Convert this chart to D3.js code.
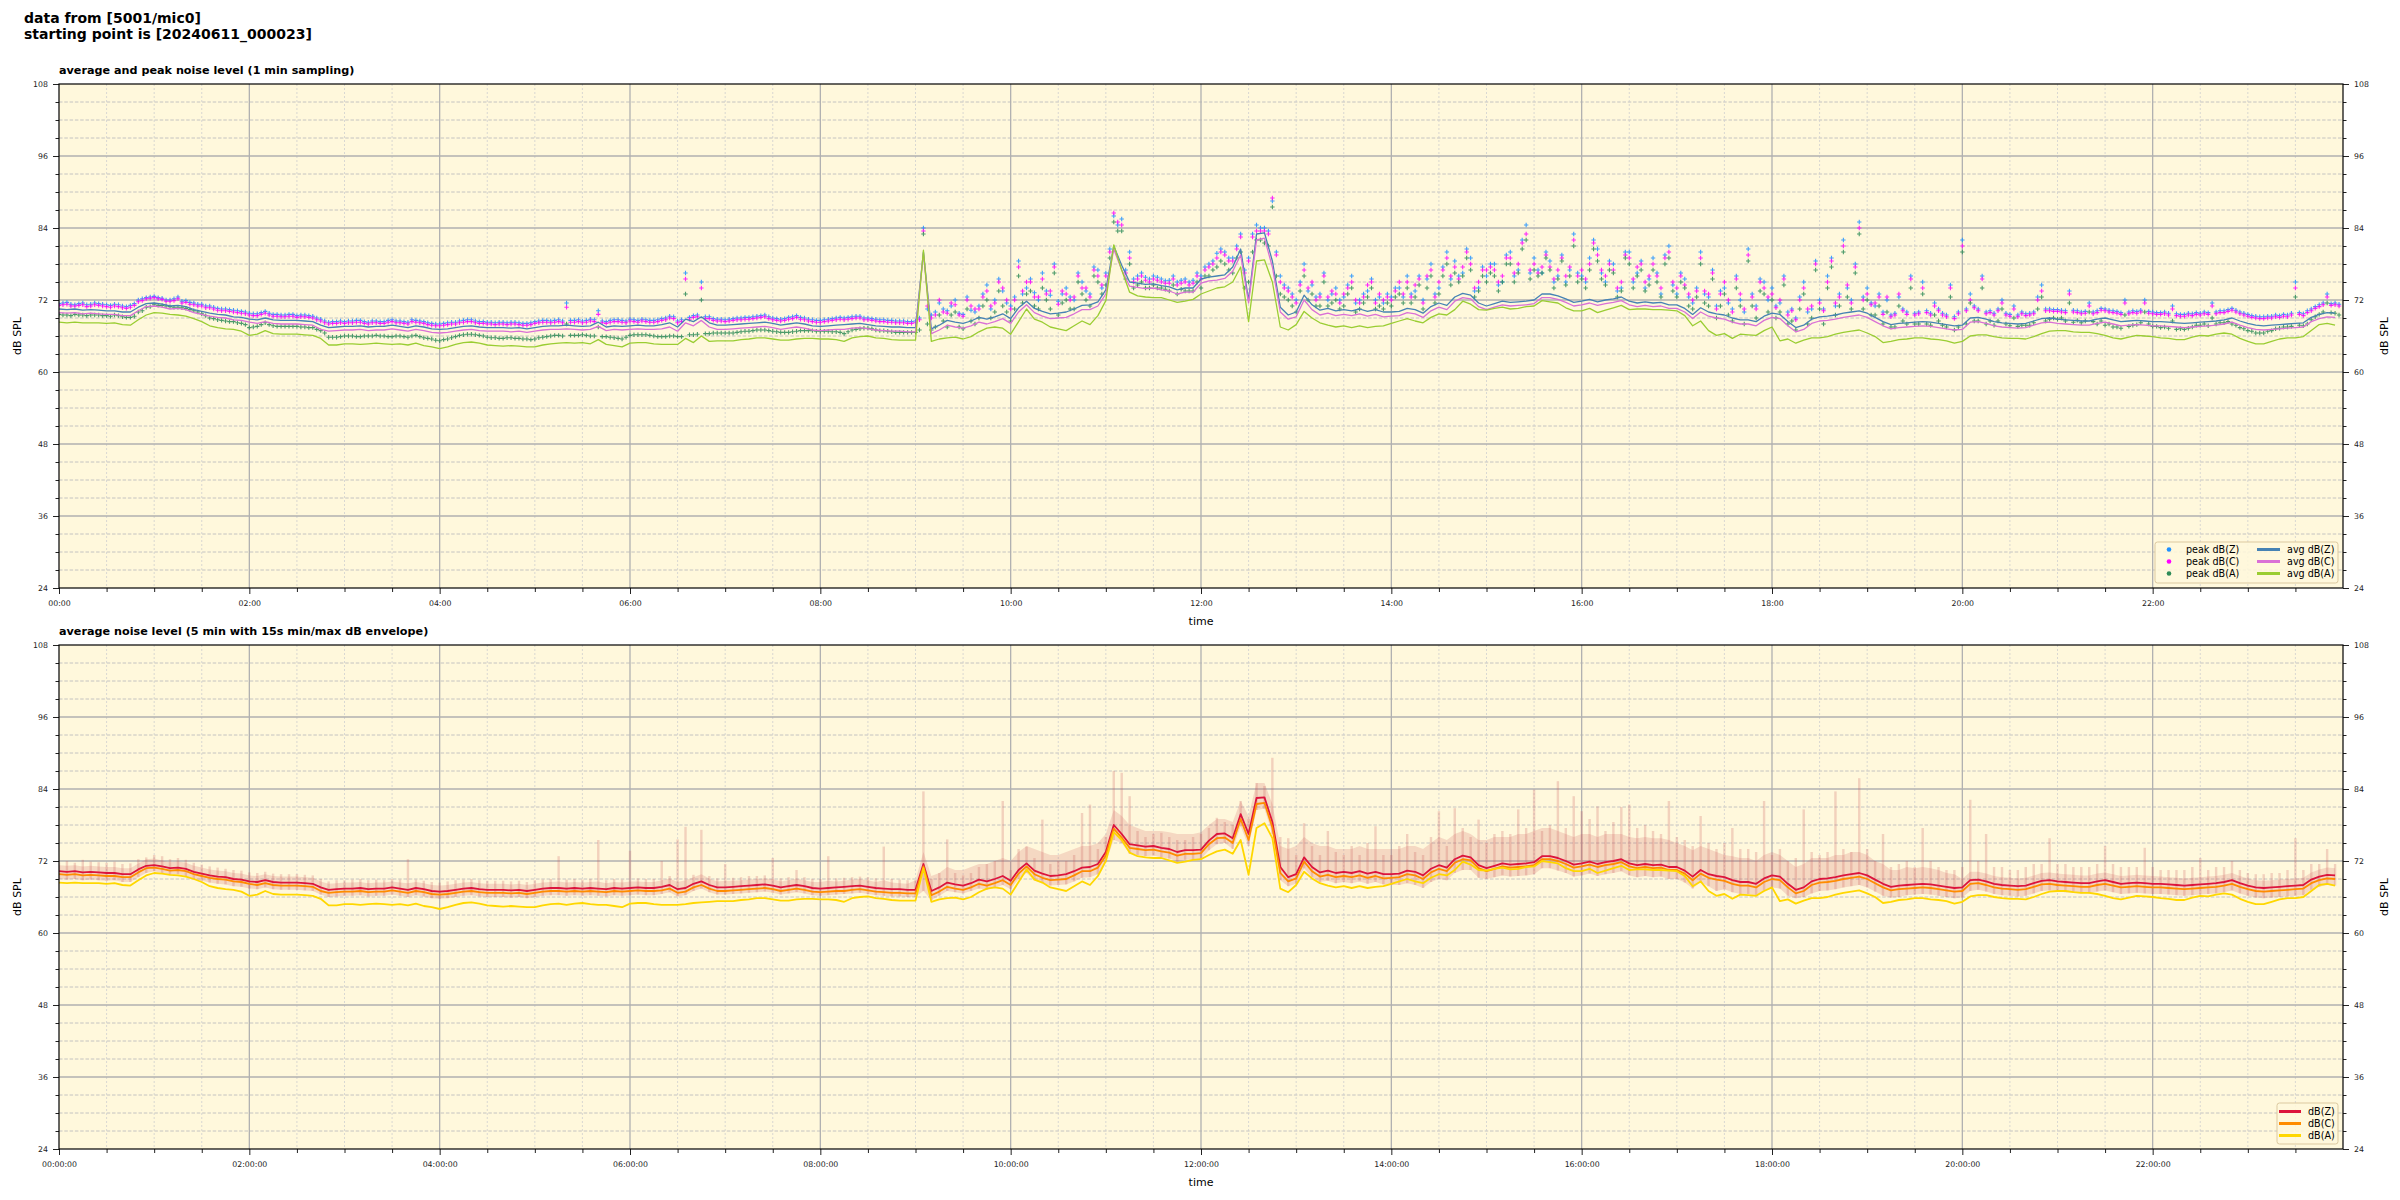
<!DOCTYPE html>
<html><head><meta charset="utf-8">
<script src="https://cdn.jsdelivr.net/npm/d3@7"></script>
<style>
body{margin:0;background:#fff}
svg text{font-family:"DejaVu Sans",sans-serif}
</style>
</head><body>
<svg id="c" width="2400" height="1200"></svg>
<script>
// ---------------- DATA (5-minute grid, 00:00 .. 23:55) ----------------
const sampleMinutes = d3.range(0, 1440, 5);
const sampleMinutesB = d3.range(2.5, 1440, 5);
const yTicks = [24, 36, 48, 60, 72, 84, 96, 108];
const xTickMinutes = [0, 120, 240, 360, 480, 600, 720, 840, 960, 1080, 1200, 1320];
const xTickLabelsTop = ["00:00","02:00","04:00","06:00","08:00","10:00","12:00","14:00","16:00","18:00","20:00","22:00"];
const xTickLabelsBottom = ["00:00:00","02:00:00","04:00:00","06:00:00","08:00:00","10:00:00","12:00:00","14:00:00","16:00:00","18:00:00","20:00:00","22:00:00"];

// top panel: peaks (1 min sampling, read at :00 of each 5 min)
const peakZ = [
71.4,71.6,71.2,71.5,71.3,71.4,71.2,71.3,71.0,71.1,72.0,72.4,
72.6,72.3,72.0,72.5,71.9,71.5,71.3,71.0,70.6,70.5,70.3,70.1,
69.8,69.7,70.1,69.6,69.5,69.6,69.4,69.5,69.3,68.8,68.3,68.4,
68.4,68.5,68.6,68.3,68.5,68.4,68.7,68.5,68.3,68.6,68.4,68.1,
68.0,68.2,68.3,68.6,68.7,68.4,68.3,68.2,68.3,68.3,68.2,68.1,
68.4,68.6,68.5,68.7,71.5,68.6,68.5,68.8,70.2,68.4,68.7,68.6,
68.8,68.6,68.7,68.6,68.9,69.3,68.5,76.5,69.4,75.0,69.2,68.8,
68.7,68.9,69.0,69.1,69.3,69.5,69.0,68.8,69.1,69.4,69.0,68.7,
68.6,68.8,69.0,69.0,69.2,69.3,69.0,68.8,68.7,68.6,68.5,68.4,
68.5,84.0,69.5,71.5,70.2,72.0,69.6,70.3,71.0,74.5,72.0,73.5,
71.0,78.5,74.0,73.2,76.5,72.8,71.8,74.0,72.0,75.0,73.0,77.0,
76.5,86.0,85.5,80.0,76.0,75.8,76.0,75.5,75.3,75.0,75.5,75.3,
76.0,78.0,79.8,80.0,79.0,83.0,79.0,84.5,84.0,88.5,76.0,74.0,
72.0,78.0,74.5,73.0,72.0,74.0,72.5,76.0,72.0,73.5,72.0,71.5,
72.5,74.0,76.0,73.5,72.0,78.0,74.0,80.0,78.5,76.5,79.0,74.0,
76.0,78.0,75.0,80.0,77.0,84.5,79.0,76.5,78.5,76.0,75.0,83.0,
76.0,79.0,80.5,75.0,78.0,74.0,80.0,76.5,74.0,79.0,73.0,81.0,
73.0,75.5,71.5,80.0,72.5,71.0,74.0,70.5,72.0,80.5,71.0,75.0,
74.0,71.5,70.0,69.0,75.0,70.5,72.0,76.0,71.0,82.0,72.0,85.0,
74.0,71.0,70.0,69.5,72.5,70.0,69.8,75.0,69.8,70.5,69.5,69.2,
82.0,73.0,70.5,70.0,69.8,72.0,69.6,69.5,69.7,70.0,74.5,70.5,
70.4,70.2,70.3,70.0,71.5,70.2,70.5,70.2,69.9,70.0,70.1,72.0,
70.0,69.9,69.8,69.7,69.6,69.7,69.8,69.9,70.0,70.2,70.6,70.0,
69.6,69.3,69.2,69.3,69.4,69.5,75.0,69.7,70.5,71.2,73.0,71.5];
const peakC = [
71.1,71.3,71.0,71.2,71.0,71.1,70.9,71.0,70.7,70.8,71.7,72.2,
72.4,72.1,71.8,72.2,71.6,71.2,71.0,70.7,70.3,70.2,70.0,69.8,
69.5,69.4,69.8,69.3,69.2,69.3,69.1,69.2,69.0,68.5,68.0,68.1,
68.1,68.2,68.3,68.0,68.2,68.1,68.4,68.2,68.0,68.3,68.1,67.8,
67.7,67.9,68.0,68.3,68.4,68.1,68.0,67.9,68.0,68.0,67.9,67.8,
68.1,68.3,68.2,68.4,70.8,68.3,68.2,68.5,69.6,68.1,68.4,68.3,
68.5,68.3,68.4,68.3,68.6,69.0,68.2,75.5,69.1,74.0,68.9,68.5,
68.4,68.6,68.7,68.8,69.0,69.2,68.7,68.5,68.8,69.1,68.7,68.4,
68.3,68.5,68.7,68.7,68.9,69.0,68.7,68.5,68.4,68.3,68.2,68.1,
68.2,83.5,69.0,72.0,69.8,71.2,69.3,71.0,70.5,73.5,71.5,74.0,
70.5,77.5,75.0,72.5,75.5,73.5,71.3,73.0,72.5,74.0,72.5,76.0,
76.0,86.5,84.5,79.0,75.5,75.3,75.5,75.0,74.8,74.5,75.0,74.8,
75.5,77.5,79.0,79.5,78.5,82.5,78.5,83.5,83.5,89.0,75.0,73.5,
71.5,77.0,75.0,72.5,72.5,73.0,73.0,75.0,71.5,74.5,71.5,72.0,
72.0,75.0,75.0,74.5,71.5,77.0,75.0,79.0,77.5,77.5,78.0,75.0,
77.0,77.0,76.0,79.0,78.0,83.0,78.0,77.5,77.5,77.0,76.0,82.0,
77.0,78.0,79.5,76.0,77.0,75.0,79.0,77.5,75.0,78.0,74.0,80.0,
74.0,74.5,72.0,79.0,73.0,70.5,75.0,70.0,73.0,79.5,70.5,74.0,
73.0,72.0,69.5,68.7,74.0,71.0,71.5,75.0,71.5,81.0,71.5,84.0,
73.0,71.5,69.6,69.2,73.0,69.6,69.5,74.0,69.5,70.2,69.2,68.9,
81.0,72.0,70.2,69.7,69.5,71.5,69.3,69.2,69.4,69.7,73.5,70.2,
70.1,69.9,70.0,69.7,71.0,69.9,70.2,69.9,69.6,69.7,69.8,71.5,
69.7,69.6,69.5,69.4,69.3,69.4,69.5,69.6,69.7,69.9,70.3,69.7,
69.3,69.0,68.9,69.0,69.1,69.2,74.0,69.4,70.2,70.9,72.5,71.2];
const peakA = [
69.6,69.5,69.6,69.5,69.5,69.5,69.4,69.5,69.2,69.1,70.0,70.8,
71.2,71.1,70.9,70.8,70.6,70.2,69.7,69.0,68.7,68.5,68.4,68.1,
67.4,67.6,68.2,67.7,67.6,67.6,67.6,67.5,67.4,66.9,65.8,65.8,
66.0,66.0,65.9,66.0,66.1,66.0,65.9,66.0,65.8,66.1,65.7,65.5,
65.2,65.5,65.9,66.2,66.3,66.1,65.8,65.7,65.6,65.7,65.6,65.5,
65.5,65.8,66.0,66.1,68.0,66.1,66.2,66.0,67.5,65.9,65.7,65.5,
66.1,66.2,66.2,66.0,65.9,66.0,65.9,73.0,66.2,72.0,66.4,66.5,
66.5,66.5,66.7,66.8,67.0,67.0,66.8,66.6,66.6,66.8,66.9,66.9,
66.8,66.8,66.7,66.4,67.0,67.2,67.3,67.0,66.9,66.7,66.6,66.6,
66.6,83.0,67.0,69.5,67.5,70.0,67.2,68.5,69.0,72.0,70.0,71.0,
68.5,76.0,73.0,71.0,74.0,70.5,69.5,72.0,70.5,73.0,71.0,75.0,
74.5,85.0,83.5,78.0,74.5,74.0,74.5,74.0,73.5,73.0,73.5,73.5,
74.0,76.0,77.5,78.0,76.5,80.0,75.0,82.0,81.5,87.5,73.0,72.0,
70.0,76.0,73.0,71.0,71.0,72.0,71.0,74.0,70.5,72.5,70.5,70.5,
71.0,73.0,74.0,72.5,70.5,76.0,73.0,78.0,76.5,76.0,77.0,73.5,
75.0,76.0,75.0,78.0,76.5,82.0,77.0,76.5,77.0,75.5,74.5,81.0,
75.5,77.0,78.5,74.5,76.5,73.5,78.0,76.0,73.5,77.0,72.5,79.0,
72.5,74.0,70.5,78.0,71.0,69.0,73.0,68.5,71.0,78.5,69.0,73.0,
72.0,70.0,68.0,67.0,73.0,69.0,70.5,74.0,69.5,80.0,70.5,83.0,
72.0,69.5,68.0,67.5,71.0,68.0,68.0,73.0,67.8,68.5,67.5,67.0,
80.0,71.5,68.5,68.0,67.8,70.5,67.7,67.6,67.8,68.2,72.5,68.8,
68.8,68.5,68.3,68.2,70.0,68.0,67.8,67.5,67.3,67.6,67.9,70.0,
67.6,67.4,67.3,67.1,67.1,67.5,67.8,67.7,68.0,68.2,68.0,67.4,
66.9,66.5,66.5,66.9,67.3,67.5,72.5,67.7,68.7,69.6,71.5,69.8];
// top panel: peaks read at :02.5 of each 5 min
const peakZb = [
71.5,71.3,71.4,71.2,71.5,71.3,71.1,71.2,70.9,71.4,72.2,72.5,
72.4,72.0,72.2,71.8,71.6,71.3,71.0,70.8,70.5,70.4,70.2,70.0,
69.7,69.9,69.8,69.6,69.5,69.6,69.5,69.4,69.0,68.5,68.4,68.5,
68.5,68.6,68.4,68.5,68.4,68.6,68.5,68.4,68.7,68.5,68.2,68.0,
68.1,68.3,68.5,68.7,68.5,68.4,68.3,68.3,68.2,68.3,68.1,68.2,
68.5,68.6,68.6,68.5,68.6,68.7,68.6,68.7,68.5,68.6,68.7,68.5,
68.7,68.8,68.6,68.7,69.0,69.2,68.7,69.1,69.5,69.2,68.9,68.8,
68.8,69.0,69.1,69.2,69.4,69.2,68.9,68.9,69.2,69.1,68.8,68.6,
68.7,68.9,69.1,69.1,69.3,69.0,68.9,68.7,68.6,68.5,68.5,68.4,
69.0,70.5,70.0,70.5,71.0,69.8,72.5,70.0,73.0,70.5,75.5,71.5,
72.5,73.0,75.5,72.0,73.5,78.0,73.0,72.5,76.5,73.5,77.5,74.0,
80.5,84.5,77.0,75.5,76.5,75.5,75.8,75.2,76.0,75.3,75.0,76.5,
77.5,78.5,80.5,79.0,81.0,77.0,83.0,84.0,83.5,80.0,74.5,73.0,
75.0,73.5,72.5,76.5,73.0,72.0,74.5,71.5,73.0,75.5,72.5,73.0,
74.0,72.5,73.0,76.0,75.5,73.0,77.5,75.5,76.0,80.5,73.5,77.5,
78.0,74.5,79.5,76.0,82.0,76.5,77.0,80.0,75.0,79.5,77.0,76.5,
75.0,82.0,76.5,78.5,73.5,80.0,75.0,78.5,75.5,76.5,79.5,74.5,
76.5,72.5,74.0,73.0,77.0,73.5,71.5,76.0,70.0,73.0,75.5,72.0,
71.0,76.0,70.5,72.5,70.0,78.5,70.5,79.0,73.0,74.0,78.0,72.5,
71.5,73.0,72.0,69.8,70.5,76.0,70.0,70.2,71.5,69.8,74.5,70.0,
70.5,71.0,76.0,70.2,70.5,69.8,71.0,70.0,69.8,72.5,70.5,70.4,
70.3,73.5,70.2,70.1,70.0,70.6,70.3,70.1,72.0,70.2,70.3,70.1,
69.9,70.0,71.0,69.6,69.8,69.9,70.0,71.5,70.2,70.4,70.3,69.8,
69.4,69.2,69.3,69.5,69.6,69.8,69.9,70.2,70.9,71.5,71.4,71.3];
const peakCb = [
71.2,71.0,71.1,70.9,71.2,71.0,70.8,70.9,70.6,71.1,71.9,72.3,
72.2,71.8,71.9,71.5,71.3,71.0,70.7,70.5,70.2,70.1,69.9,69.7,
69.4,69.6,69.5,69.3,69.2,69.3,69.2,69.1,68.7,68.2,68.1,68.2,
68.2,68.3,68.1,68.2,68.1,68.3,68.2,68.1,68.4,68.2,67.9,67.7,
67.8,68.0,68.2,68.4,68.2,68.1,68.0,68.0,67.9,68.0,67.8,67.9,
68.2,68.3,68.3,68.2,68.3,68.4,68.3,68.4,68.2,68.3,68.4,68.2,
68.4,68.5,68.3,68.4,68.7,68.9,68.4,68.8,69.2,68.9,68.6,68.5,
68.5,68.7,68.8,68.9,69.1,68.9,68.6,68.6,68.9,68.8,68.5,68.3,
68.4,68.6,68.8,68.8,69.0,68.7,68.6,68.4,68.3,68.2,68.2,68.1,
68.7,71.0,69.5,70.0,71.5,69.5,72.0,70.5,72.5,71.0,75.0,72.0,
72.0,73.5,75.0,72.5,73.0,77.5,73.5,72.0,76.0,74.0,77.0,74.5,
80.0,85.0,76.5,75.0,76.0,75.0,75.3,74.8,75.5,74.8,74.5,76.0,
77.0,78.0,80.0,78.5,80.5,76.5,82.5,83.5,83.0,79.5,74.0,72.5,
74.5,74.0,72.0,76.0,73.5,71.5,74.0,72.0,72.5,75.0,73.0,72.5,
73.5,73.0,72.5,75.5,76.0,72.5,77.0,76.0,75.5,80.0,74.0,77.0,
77.5,75.0,79.0,76.5,81.5,77.0,76.5,79.5,75.5,79.0,77.5,76.0,
75.5,81.5,77.0,78.0,74.0,79.5,75.5,78.0,76.0,76.0,79.0,75.0,
76.0,73.0,73.5,73.5,76.5,73.0,72.0,75.5,70.5,72.5,75.0,72.5,
70.7,75.5,70.2,72.0,70.5,78.0,70.2,78.5,72.5,74.5,77.5,72.0,
71.2,72.5,72.5,69.5,70.2,75.5,69.7,69.9,71.0,69.5,74.0,69.7,
70.2,70.7,75.5,69.9,70.2,69.5,70.5,69.7,69.5,72.0,70.2,70.1,
70.0,73.0,69.9,69.8,69.7,70.3,70.0,69.8,71.5,69.9,70.0,69.8,
69.6,69.7,70.5,69.3,69.5,69.6,69.7,71.0,69.9,70.1,70.0,69.5,
69.1,68.9,69.0,69.2,69.3,69.5,69.6,69.9,70.6,71.2,71.1,71.0];
const peakAb = [
69.5,69.4,69.5,69.4,69.5,69.4,69.3,69.4,69.1,69.3,70.2,70.9,
71.1,71.0,70.8,70.7,70.4,70.0,69.4,68.9,68.6,68.4,68.2,67.9,
67.5,67.9,67.9,67.6,67.6,67.6,67.5,67.4,67.1,66.5,65.8,65.9,
66.0,65.9,66.0,66.0,66.0,65.9,66.0,65.9,66.0,65.9,65.6,65.3,
65.4,65.7,66.1,66.3,66.2,66.0,65.7,65.6,65.7,65.6,65.5,65.4,
65.7,65.9,66.1,66.0,66.1,66.1,66.1,66.0,65.9,65.8,65.6,65.8,
66.2,66.2,66.1,65.9,65.9,66.0,65.9,66.2,66.3,66.4,66.5,66.5,
66.5,66.6,66.8,66.9,67.0,66.9,66.7,66.6,66.7,66.9,66.9,66.8,
66.8,66.7,66.6,66.7,67.1,67.3,67.2,66.9,66.8,66.6,66.6,66.6,
67.0,68.0,67.5,68.5,69.5,67.5,70.5,68.0,71.0,69.0,73.5,70.0,
70.5,71.5,73.5,70.5,72.0,76.5,71.5,70.5,75.0,72.0,76.0,73.0,
79.0,83.5,75.5,74.0,75.0,74.0,74.0,73.8,74.5,73.8,73.5,75.0,
76.0,77.0,78.5,77.0,79.0,74.0,80.0,82.0,81.0,76.0,72.5,71.0,
73.5,72.0,71.0,75.0,71.5,70.5,73.0,70.0,71.5,74.0,71.0,71.5,
72.5,71.5,71.5,74.5,74.0,71.5,76.0,74.5,75.0,79.0,72.5,76.0,
76.5,73.5,78.0,75.0,80.5,75.5,76.0,79.0,74.0,78.5,76.0,75.0,
74.0,80.5,75.5,77.0,72.5,79.0,74.0,77.0,74.5,75.0,78.0,73.5,
75.0,71.0,72.5,71.5,75.5,71.0,69.5,74.0,68.0,71.0,73.5,70.0,
69.0,74.5,68.5,70.5,68.0,77.0,68.0,77.5,71.0,72.5,76.5,70.5,
69.5,71.0,70.0,67.5,68.5,74.0,68.0,68.0,69.5,67.8,72.5,67.5,
68.0,68.5,74.0,68.5,68.5,68.0,69.0,67.8,67.8,70.5,68.5,69.0,
69.0,71.5,68.6,68.5,68.4,68.5,68.0,67.5,69.5,67.8,68.2,68.0,
67.6,67.5,68.5,67.2,67.3,67.8,68.0,69.0,68.2,68.4,67.8,67.2,
66.8,66.5,66.8,67.2,67.5,67.6,67.8,68.0,69.2,70.0,69.9,69.5];

// top panel: 1-min averages (read every 5 min)
const avgZ = [
70.5,70.4,70.5,70.3,70.4,70.3,70.2,70.2,70.0,70.0,70.8,71.4,
71.5,71.3,71.0,71.1,70.9,70.4,70.1,69.8,69.6,69.5,69.2,69.1,
68.8,68.7,69.0,68.7,68.6,68.6,68.6,68.5,68.4,67.8,67.4,67.5,
67.6,67.6,67.7,67.5,67.6,67.6,67.8,67.6,67.4,67.7,67.5,67.2,
67.1,67.2,67.4,67.6,67.7,67.5,67.4,67.4,67.4,67.3,67.4,67.2,
67.4,67.6,67.7,67.7,67.8,67.7,67.6,67.7,68.3,67.5,67.7,67.6,
67.7,67.8,67.7,67.7,67.9,68.2,67.5,68.8,68.4,69.2,68.2,67.8,
67.8,67.9,68.0,68.1,68.2,68.3,68.1,67.8,68.0,68.2,68.0,67.7,
67.6,67.7,67.8,67.9,68.0,68.1,67.9,67.7,67.6,67.5,67.5,67.4,
67.4,80.0,67.2,67.8,68.6,68.3,68.1,68.5,69.1,68.8,69.2,69.7,
68.9,70.7,71.8,70.6,70.1,69.7,69.8,70.0,70.5,71.1,71.2,71.7,
73.7,81.0,77.8,75.0,74.8,74.6,74.7,74.4,74.2,73.7,74.0,74.0,
75.5,75.8,76.0,76.2,77.5,80.5,72.0,83.0,83.2,78.5,70.8,69.5,
70.0,72.8,71.2,70.3,70.6,70.2,70.4,70.2,70.5,70.1,70.4,70.0,
70.0,70.1,70.6,70.4,69.8,70.9,71.5,71.1,72.5,73.1,72.8,71.5,
71.0,71.4,71.8,71.6,71.7,71.8,72.0,73.0,73.0,72.7,72.2,71.6,
71.8,72.1,71.7,72.0,72.2,72.5,71.8,71.5,71.7,71.5,71.6,71.2,
71.2,70.6,69.6,70.7,70.0,69.7,69.5,69.0,68.7,68.7,68.4,69.3,
69.8,69.6,68.4,67.4,67.8,68.8,69.2,69.3,69.5,69.8,70.0,70.2,
69.8,69.1,68.4,67.9,68.1,68.2,68.3,68.4,68.3,68.1,67.9,67.7,
67.8,69.0,69.1,68.8,68.4,68.2,68.1,68.0,68.1,68.5,68.9,69.0,
68.8,68.7,68.6,68.5,68.5,68.8,69.0,68.7,68.4,68.5,68.6,68.5,
68.4,68.4,68.3,68.2,68.1,68.2,68.3,68.4,68.5,68.7,69.0,68.5,
68.1,67.8,67.7,67.8,67.9,68.0,68.1,68.2,69.1,69.6,69.9,69.8];
const avgC = [
69.9,69.8,69.9,69.7,69.8,69.7,69.6,69.6,69.4,69.4,70.2,70.9,
71.0,70.8,70.5,70.6,70.4,69.9,69.6,69.3,69.1,69.0,68.7,68.6,
68.3,68.1,68.4,68.1,68.0,68.0,68.0,67.9,67.8,67.1,66.8,66.9,
67.0,67.0,67.1,66.9,67.0,67.0,67.2,67.0,66.8,67.1,66.9,66.6,
66.5,66.6,66.8,67.0,67.1,66.9,66.8,66.8,66.8,66.7,66.8,66.6,
66.8,67.0,67.1,67.1,67.2,67.1,67.0,67.1,67.6,66.9,67.1,67.0,
67.1,67.2,67.1,67.1,67.2,67.5,66.8,68.2,67.7,68.6,67.5,67.1,
67.1,67.2,67.3,67.4,67.5,67.6,67.4,67.1,67.3,67.5,67.3,67.0,
66.9,67.0,67.1,67.1,67.3,67.4,67.2,67.0,66.9,66.8,66.8,66.7,
66.7,79.8,66.4,67.0,67.8,67.5,67.3,67.7,68.3,68.0,68.4,68.9,
68.1,70.0,71.2,69.9,69.3,68.9,69.0,69.1,69.7,70.4,70.4,71.0,
73.0,80.5,77.0,74.3,74.1,73.9,74.0,73.7,73.5,73.0,73.3,73.3,
74.8,75.2,75.3,75.6,76.8,79.5,71.5,82.0,82.3,77.5,70.0,68.8,
69.2,72.0,70.4,69.5,69.8,69.4,69.6,69.4,69.7,69.3,69.6,69.2,
69.3,69.4,69.9,69.7,69.1,70.2,70.8,70.4,71.8,72.4,72.2,70.9,
70.4,70.8,71.2,71.0,71.1,71.2,71.4,72.4,72.4,72.1,71.6,71.0,
71.2,71.5,71.1,71.4,71.6,71.9,71.2,70.9,71.1,70.9,71.0,70.6,
70.6,70.0,68.9,70.0,69.3,69.0,68.8,68.3,68.0,68.0,67.7,68.6,
69.1,68.9,67.7,66.7,67.1,68.1,68.5,68.6,68.8,69.1,69.3,69.5,
69.1,68.4,67.7,67.2,67.4,67.5,67.6,67.7,67.6,67.4,67.2,67.0,
67.1,68.3,68.4,68.1,67.7,67.5,67.4,67.3,67.4,67.8,68.2,68.3,
68.1,68.0,67.9,67.8,67.8,68.1,68.3,68.0,67.7,67.8,67.9,67.8,
67.7,67.7,67.6,67.5,67.4,67.5,67.6,67.7,67.8,68.0,68.3,67.8,
67.4,67.1,67.0,67.1,67.2,67.3,67.4,67.5,68.4,68.9,69.2,69.1];
const avgA = [
68.3,68.2,68.3,68.2,68.2,68.2,68.1,68.2,67.9,67.8,68.7,69.5,
69.9,69.8,69.6,69.5,69.3,68.9,68.4,67.7,67.4,67.2,67.1,66.8,
66.1,66.3,66.9,66.4,66.3,66.3,66.3,66.2,66.1,65.6,64.5,64.5,
64.7,64.7,64.6,64.7,64.8,64.7,64.6,64.7,64.5,64.8,64.4,64.2,
63.9,64.2,64.6,64.9,65.0,64.8,64.5,64.4,64.3,64.4,64.3,64.2,
64.2,64.5,64.7,64.8,64.9,64.8,64.9,64.7,65.4,64.6,64.4,64.2,
64.8,64.9,64.9,64.7,64.6,64.6,64.6,65.6,64.9,66.0,65.1,65.2,
65.2,65.2,65.4,65.5,65.7,65.7,65.5,65.3,65.3,65.5,65.6,65.6,
65.5,65.5,65.4,65.1,65.7,65.9,66.0,65.7,65.6,65.4,65.3,65.3,
65.3,80.3,65.1,65.5,65.7,65.8,65.5,65.9,66.7,67.3,67.5,67.3,
66.3,68.4,70.5,68.8,68.3,67.5,67.2,66.9,67.7,68.5,67.9,69.4,
71.9,81.2,77.0,73.3,72.7,72.5,72.4,72.4,72.0,71.6,71.8,72.1,
73.0,73.5,74.0,74.2,75.0,77.5,68.4,78.5,78.7,75.0,67.5,67.0,
67.9,70.1,69.0,68.2,67.8,67.5,67.7,67.4,67.7,67.4,67.6,67.7,
68.1,68.5,68.9,68.5,68.2,69.1,69.7,69.5,70.4,71.8,71.3,70.4,
70.3,70.6,70.8,70.5,70.6,70.9,71.0,71.9,71.7,71.5,70.7,70.2,
70.2,70.6,69.9,70.3,70.7,71.1,70.4,70.5,70.5,70.4,70.4,70.3,
70.2,69.4,67.7,68.5,66.9,66.1,66.4,65.6,66.3,66.2,66.1,66.9,
67.5,65.2,65.5,64.8,65.3,65.7,65.7,65.9,66.3,66.6,66.8,67.0,
66.5,65.9,64.9,65.1,65.4,65.5,65.7,65.7,65.5,65.4,65.2,64.8,
65.1,66.0,66.2,66.2,65.9,65.7,65.6,65.6,65.5,65.9,66.4,66.8,
66.9,66.9,66.7,66.6,66.6,66.4,66.1,65.7,65.5,65.8,66.1,66.0,
65.9,65.7,65.6,65.4,65.4,65.8,66.1,66.0,66.3,66.5,66.3,65.6,
65.1,64.7,64.7,65.1,65.5,65.7,65.7,65.9,66.9,67.9,68.1,67.8];

// bottom panel: 5-min averages
const dbZ = [
70.3,70.2,70.3,70.1,70.2,70.1,70.0,70.0,69.8,69.8,70.6,71.2,
71.3,71.1,70.8,70.9,70.7,70.2,69.9,69.6,69.4,69.3,69.0,68.9,
68.6,68.5,68.8,68.5,68.4,68.4,68.4,68.3,68.2,67.6,67.2,67.3,
67.4,67.4,67.5,67.3,67.4,67.4,67.6,67.4,67.2,67.5,67.3,67.0,
66.9,67.0,67.2,67.4,67.5,67.3,67.2,67.2,67.2,67.1,67.2,67.0,
67.2,67.4,67.5,67.5,67.4,67.5,67.4,67.5,67.4,67.3,67.5,67.4,
67.5,67.6,67.5,67.5,67.7,68.0,67.3,67.5,68.2,68.6,68.0,67.6,
67.6,67.7,67.8,67.9,68.0,68.1,67.9,67.6,67.8,68.0,67.8,67.5,
67.4,67.5,67.6,67.7,67.8,67.9,67.7,67.5,67.4,67.3,67.3,67.2,
67.2,71.5,67.0,67.6,68.4,68.1,67.9,68.3,68.9,68.6,69.0,69.5,
68.7,70.5,71.6,70.4,69.9,69.5,69.6,69.8,70.3,70.9,71.0,71.5,
73.5,78.0,76.5,74.8,74.6,74.4,74.5,74.2,74.0,73.5,73.8,73.8,
73.9,75.4,76.5,76.6,75.8,79.8,76.5,82.5,82.6,78.5,71.0,69.3,
69.8,72.6,71.0,70.1,70.4,70.0,70.2,70.0,70.3,69.9,70.2,69.8,
69.8,69.9,70.4,70.2,69.6,70.7,71.3,70.9,72.3,72.9,72.6,71.3,
70.8,71.2,71.6,71.4,71.5,71.6,71.8,72.8,72.8,72.5,72.0,71.4,
71.6,71.9,71.5,71.8,72.0,72.3,71.6,71.3,71.5,71.3,71.4,71.0,
71.0,70.4,69.4,70.5,69.8,69.5,69.3,68.8,68.5,68.5,68.2,69.1,
69.6,69.4,68.2,67.2,67.6,68.6,69.0,69.1,69.3,69.6,69.8,70.0,
69.6,68.9,68.2,67.7,67.9,68.0,68.1,68.2,68.1,67.9,67.7,67.5,
67.6,68.8,68.9,68.6,68.2,68.0,67.9,67.8,67.9,68.3,68.7,68.8,
68.6,68.5,68.4,68.3,68.3,68.6,68.8,68.5,68.2,68.3,68.4,68.3,
68.2,68.2,68.1,68.0,67.9,68.0,68.1,68.2,68.3,68.5,68.8,68.3,
67.9,67.6,67.5,67.6,67.7,67.8,67.9,68.0,68.9,69.4,69.7,69.6];
const dbC = [
69.8,69.7,69.8,69.6,69.7,69.6,69.5,69.5,69.3,69.3,70.1,70.8,
70.9,70.7,70.4,70.5,70.3,69.8,69.5,69.2,69.0,68.9,68.6,68.5,
68.2,68.0,68.3,68.0,67.9,67.9,67.9,67.8,67.7,67.0,66.7,66.8,
66.9,66.9,67.0,66.8,66.9,66.9,67.1,66.9,66.7,67.0,66.8,66.5,
66.4,66.5,66.7,66.9,67.0,66.8,66.7,66.7,66.7,66.6,66.7,66.5,
66.7,66.9,67.0,67.0,66.9,67.0,66.9,67.0,66.9,66.8,67.0,66.9,
67.0,67.1,67.0,67.0,67.1,67.4,66.7,66.9,67.6,68.0,67.4,67.0,
67.0,67.1,67.2,67.3,67.4,67.5,67.3,67.0,67.2,67.4,67.2,66.9,
66.8,66.9,67.0,67.0,67.2,67.3,67.1,66.9,66.8,66.7,66.7,66.6,
66.6,71.1,66.3,66.9,67.7,67.4,67.2,67.6,68.2,67.9,68.3,68.8,
68.0,69.9,71.1,69.8,69.2,68.8,68.9,69.0,69.6,70.3,70.3,70.9,
72.9,77.4,75.9,74.2,74.0,73.8,73.9,73.6,73.4,72.9,73.2,73.2,
73.3,74.8,75.8,75.9,75.0,79.0,75.5,81.5,81.7,77.6,70.0,68.6,
69.1,71.9,70.3,69.4,69.7,69.3,69.5,69.3,69.6,69.2,69.5,69.1,
69.2,69.3,69.8,69.6,69.0,70.1,70.7,70.3,71.7,72.3,72.1,70.8,
70.3,70.7,71.1,70.9,71.0,71.1,71.3,72.3,72.3,72.0,71.5,70.9,
71.1,71.4,71.0,71.3,71.5,71.8,71.1,70.8,71.0,70.8,70.9,70.5,
70.5,69.9,68.8,69.9,69.2,68.9,68.7,68.2,67.9,67.9,67.6,68.5,
69.0,68.8,67.6,66.6,67.0,68.0,68.4,68.5,68.7,69.0,69.2,69.4,
69.0,68.3,67.6,67.1,67.3,67.4,67.5,67.6,67.5,67.3,67.1,66.9,
67.0,68.2,68.3,68.0,67.6,67.4,67.3,67.2,67.3,67.7,68.1,68.2,
68.0,67.9,67.8,67.7,67.7,68.0,68.2,67.9,67.6,67.7,67.8,67.7,
67.6,67.6,67.5,67.4,67.3,67.4,67.5,67.6,67.7,67.9,68.2,67.7,
67.3,67.0,66.9,67.0,67.1,67.2,67.3,67.4,68.3,68.8,69.1,69.0];
const dbA = [
68.4,68.3,68.4,68.3,68.3,68.3,68.2,68.3,68.0,67.9,68.8,69.6,
70.0,69.9,69.7,69.6,69.4,69.0,68.5,67.8,67.5,67.3,67.2,66.9,
66.2,66.4,67.0,66.5,66.4,66.4,66.4,66.3,66.2,65.7,64.6,64.6,
64.8,64.8,64.7,64.8,64.9,64.8,64.7,64.8,64.6,64.9,64.5,64.3,
64.0,64.3,64.7,65.0,65.1,64.9,64.6,64.5,64.4,64.5,64.4,64.3,
64.3,64.6,64.8,64.9,64.7,64.9,65.0,64.8,64.7,64.7,64.5,64.3,
64.9,65.0,65.0,64.8,64.7,64.7,64.7,64.8,65.0,65.1,65.2,65.3,
65.3,65.3,65.5,65.6,65.8,65.8,65.6,65.4,65.4,65.6,65.7,65.7,
65.6,65.6,65.5,65.2,65.8,66.0,66.1,65.8,65.7,65.5,65.4,65.4,
65.4,70.8,65.2,65.6,65.8,65.9,65.6,66.0,66.8,67.4,67.6,67.4,
66.4,68.5,70.6,68.9,68.4,67.6,67.3,67.0,67.8,68.6,68.0,69.5,
72.0,76.8,75.5,73.4,72.8,72.6,72.5,72.5,72.1,71.7,71.9,72.2,
72.3,73.0,73.6,73.9,73.2,75.5,69.7,77.5,78.3,75.8,67.4,66.8,
68.0,70.2,69.1,68.3,67.9,67.6,67.8,67.5,67.8,67.5,67.7,67.8,
68.2,68.6,69.0,68.6,68.3,69.2,69.8,69.6,70.5,71.9,71.4,70.5,
70.4,70.7,70.9,70.6,70.7,71.0,71.1,72.0,71.8,71.6,70.8,70.3,
70.3,70.7,70.0,70.4,70.8,71.2,70.5,70.6,70.6,70.5,70.5,70.4,
70.3,69.5,67.8,68.6,67.0,66.2,66.5,65.7,66.4,66.3,66.2,67.0,
67.6,65.3,65.6,64.9,65.4,65.8,65.8,66.0,66.4,66.7,66.9,67.1,
66.6,66.0,65.0,65.2,65.5,65.6,65.8,65.8,65.6,65.5,65.3,64.9,
65.2,66.1,66.3,66.3,66.0,65.8,65.7,65.7,65.6,66.0,66.5,66.9,
67.0,67.0,66.8,66.7,66.7,66.5,66.2,65.8,65.6,65.9,66.2,66.1,
66.0,65.8,65.7,65.5,65.5,65.9,66.2,66.1,66.4,66.6,66.4,65.7,
65.2,64.8,64.8,65.2,65.6,65.8,65.8,66.0,67.0,68.0,68.2,67.9];
// bottom panel: 15 s min/max envelope -- lower edge, usual upper edge, and max spikes per 5 min
const envMin = [
69.0,68.9,69.0,68.8,68.9,68.8,68.7,68.8,68.5,68.5,69.3,70.0,
70.3,70.0,69.7,69.8,69.5,69.0,68.7,68.4,68.2,68.1,67.8,67.7,
67.4,67.3,67.6,67.3,67.2,67.2,67.2,67.1,67.0,66.4,66.0,66.1,
66.2,66.2,66.3,66.1,66.2,66.2,66.4,66.2,66.0,66.3,66.1,65.8,
65.7,65.8,66.0,66.2,66.3,66.1,66.0,66.0,66.0,65.9,66.0,65.8,
66.0,66.2,66.3,66.3,66.2,66.3,66.2,66.3,66.2,66.1,66.3,66.2,
66.3,66.4,66.3,66.3,66.5,66.8,66.1,66.3,67.0,67.4,66.8,66.4,
66.4,66.5,66.6,66.7,66.8,66.9,66.7,66.4,66.6,66.8,66.6,66.3,
66.2,66.3,66.4,66.5,66.6,66.7,66.5,66.3,66.2,66.1,66.1,66.0,
66.0,67.0,65.5,66.2,67.0,66.8,66.6,67.0,67.4,67.2,67.5,68.0,
67.3,69.0,70.0,68.8,68.3,67.9,68.0,68.1,68.6,69.2,69.3,69.8,
71.8,75.5,75.0,73.2,73.0,72.8,72.9,72.6,72.4,71.9,72.2,72.2,
72.3,73.8,74.8,75.0,74.0,77.8,74.5,80.5,80.7,76.5,68.8,67.8,
68.2,70.8,69.3,68.5,68.7,68.3,68.5,68.3,68.6,68.2,68.5,68.1,
68.0,68.0,68.3,68.0,67.5,68.5,69.0,68.8,70.0,70.5,70.5,69.2,
69.0,69.3,69.6,69.4,69.5,69.6,69.8,70.8,70.8,70.4,70.0,69.4,
69.6,69.9,69.5,69.8,70.0,70.3,69.6,69.3,69.5,69.3,69.4,69.0,
69.0,68.4,67.4,68.5,67.8,67.0,67.3,66.8,66.5,66.5,66.2,67.1,
67.6,67.4,66.2,65.8,66.0,66.6,67.0,67.1,67.3,67.6,67.8,68.0,
67.6,66.9,66.2,65.9,66.0,66.3,66.4,66.5,66.4,66.2,66.0,65.8,
65.9,67.0,67.2,66.9,66.5,66.3,66.2,66.1,66.2,66.6,67.0,67.1,
66.9,66.8,66.7,66.6,66.6,66.9,67.1,66.8,66.5,66.6,66.7,66.6,
66.5,66.5,66.4,66.3,66.2,66.3,66.4,66.5,66.6,66.8,67.1,66.6,
66.2,65.9,65.8,65.9,66.0,66.1,66.2,66.3,67.2,67.7,68.0,67.9];
const envHi = [
71.3,71.2,71.3,71.1,71.2,71.1,71.0,71.0,70.8,70.8,71.6,72.3,
72.4,72.1,71.8,71.9,71.7,71.2,70.9,70.6,70.4,70.3,70.0,69.9,
69.6,69.5,69.8,69.5,69.4,69.4,69.4,69.3,69.2,68.6,68.2,68.3,
68.4,68.4,68.5,68.3,68.4,68.4,68.6,68.4,68.3,68.5,68.3,68.0,
67.9,68.0,68.2,68.4,68.5,68.3,68.2,68.2,68.2,68.1,68.2,68.0,
68.2,68.4,68.5,68.6,68.4,68.5,68.4,68.5,68.6,68.3,68.5,68.4,
68.6,68.6,68.5,68.5,68.8,69.1,68.5,68.8,69.3,69.8,69.1,68.6,
68.7,68.7,68.8,68.9,69.0,69.1,69.0,68.6,68.8,69.1,68.8,68.5,
68.5,68.7,68.6,68.7,68.9,69.0,68.8,68.5,68.8,68.4,68.3,68.2,
68.8,73.5,69.5,70.0,71.0,70.5,70.5,71.0,71.5,71.5,72.0,72.5,
72.0,73.5,74.5,74.0,73.5,73.0,73.0,73.5,74.0,74.5,74.5,75.0,
76.5,80.5,79.5,78.0,77.5,77.0,77.0,77.0,76.8,76.5,76.5,76.5,
76.8,78.0,79.0,79.0,78.5,82.0,79.5,85.0,85.0,81.5,74.5,74.0,
74.5,76.0,75.0,74.5,74.5,74.0,74.0,74.0,74.5,74.0,74.0,74.0,
74.0,74.0,74.5,74.5,74.0,75.0,76.0,75.5,76.5,77.0,76.5,75.5,
75.5,76.0,76.0,76.0,76.5,76.5,77.0,77.5,77.5,77.0,76.5,76.0,
76.5,76.5,76.0,76.5,76.5,76.5,76.0,75.8,76.0,75.8,75.8,75.5,
75.0,74.5,73.8,74.5,74.0,73.5,73.0,72.8,72.5,72.5,72.0,73.0,
73.5,73.0,72.0,71.0,71.5,72.5,72.5,72.5,73.0,73.0,73.5,73.5,
73.0,72.0,71.5,70.5,70.5,71.0,70.8,71.0,70.8,70.5,70.0,69.8,
69.0,70.2,70.2,69.9,69.5,69.3,69.2,69.1,69.2,69.6,70.0,70.1,
69.9,69.8,69.7,69.6,69.6,69.9,70.1,69.8,69.5,69.6,69.7,69.6,
69.5,69.4,69.3,69.2,69.1,69.2,69.3,69.4,69.5,69.7,70.0,69.5,
69.1,68.8,68.7,68.8,68.9,69.0,69.1,69.2,70.1,70.6,70.9,70.8];
const envMax = [
71.8,72.0,71.7,72.2,71.9,71.8,71.7,71.9,71.5,71.6,72.3,72.6,
73.0,72.8,72.3,72.5,72.2,71.7,71.4,71.1,70.9,70.7,70.5,70.4,
70.1,70.0,70.2,69.9,69.8,69.8,69.8,69.7,69.6,69.0,68.6,68.8,
68.8,68.9,69.0,68.8,68.9,68.8,69.0,68.9,72.3,68.9,68.7,68.5,
68.4,68.6,68.8,68.9,69.0,68.8,68.7,68.7,68.7,68.6,68.7,68.5,
68.8,68.9,69.0,72.8,68.9,69.0,68.9,69.0,75.5,68.8,69.0,68.9,
73.7,69.1,69.0,69.0,72.0,69.5,75.6,77.7,69.7,77.2,69.5,69.1,
71.5,69.2,69.3,69.5,69.5,69.6,72.5,69.1,69.3,70.5,69.3,69.0,
69.0,72.8,69.1,69.2,69.3,69.4,69.3,69.1,74.4,69.0,68.9,68.8,
68.8,83.6,69.0,70.0,75.6,70.0,69.6,70.0,71.0,71.5,72.0,82.0,
70.5,74.0,74.4,72.5,78.9,71.5,72.0,72.0,73.0,80.0,81.4,74.0,
76.0,87.0,86.7,82.8,77.0,76.0,76.5,76.7,76.0,75.5,75.5,76.0,
76.5,77.5,79.2,78.5,78.0,82.0,79.0,85.0,84.5,89.2,76.0,75.8,
73.0,78.3,74.5,73.0,77.0,73.5,73.0,74.5,73.0,75.0,77.8,73.0,
73.0,74.5,76.5,73.5,73.0,76.0,80.3,74.5,80.8,77.5,76.0,78.9,
75.0,76.5,77.0,76.5,80.6,77.5,83.9,77.0,78.0,85.3,77.5,82.8,
80.3,79.0,81.1,77.0,78.5,81.0,81.4,77.5,78.0,77.0,76.5,82.0,
76.0,75.5,74.5,79.5,75.0,74.0,75.0,77.5,74.0,74.0,73.5,82.0,
73.0,74.0,72.0,72.5,80.6,73.5,73.0,73.5,83.6,74.0,73.5,85.8,
74.0,72.0,76.5,71.0,71.5,72.0,71.0,77.5,72.0,71.0,70.5,70.5,
71.0,82.2,72.0,76.5,71.0,71.0,70.5,70.5,71.0,71.5,71.5,75.8,
71.5,71.5,71.0,71.0,71.0,71.5,74.5,71.5,71.0,71.0,71.0,74.2,
71.0,70.5,70.5,70.5,70.5,71.0,72.5,70.5,71.0,71.0,72.0,70.5,
70.0,69.8,69.8,70.0,70.0,70.5,75.8,70.5,71.5,71.5,74.0,71.5];

// ---------------- DRAWING ----------------
const svg = d3.select("#c");
const L = 59, R = 2343;
const BG = "#fff8dc";
const x = d3.scaleLinear().domain([0, 1440]).range([L, R]);

svg.append("rect").attr("width", 2400).attr("height", 1200).attr("fill", "#ffffff");
svg.append("text").attr("x", 24).attr("y", 23).attr("font-size", 14).attr("font-weight", "bold").text("data from [5001/mic0]");
svg.append("text").attr("x", 24).attr("y", 39).attr("font-size", 14).attr("font-weight", "bold").text("starting point is [20240611_000023]");

const minorYVals = d3.range(24, 109, 3).filter(v => v % 12 !== 0);
const minorXVals = d3.range(30, 1440, 30).filter(v => v % 120 !== 0);

function panel(top, bottom, title) {
  const y = d3.scaleLinear().domain([24, 108]).range([bottom, top]);
  const g = svg.append("g");
  g.append("rect").attr("x", L).attr("y", top).attr("width", R - L).attr("height", bottom - top).attr("fill", BG);
  g.selectAll(null).data(minorYVals).join("line")
    .attr("x1", L).attr("x2", R).attr("y1", d => y(d)).attr("y2", d => y(d))
    .attr("stroke", "#bdbdbd").attr("stroke-width", 0.9).attr("stroke-dasharray", "3.5,1.8");
  g.selectAll(null).data(minorXVals).join("line")
    .attr("y1", top).attr("y2", bottom).attr("x1", d => x(d)).attr("x2", d => x(d))
    .attr("stroke", "#cfcfcf").attr("stroke-width", 0.8).attr("stroke-dasharray", "2,2");
  g.selectAll(null).data(yTicks.slice(1, -1)).join("line")
    .attr("x1", L).attr("x2", R).attr("y1", d => y(d)).attr("y2", d => y(d))
    .attr("stroke", "#b0b0b0").attr("stroke-width", 1.5);
  g.selectAll(null).data(xTickMinutes.slice(1)).join("line")
    .attr("y1", top).attr("y2", bottom).attr("x1", d => x(d)).attr("x2", d => x(d))
    .attr("stroke", "#b0b0b0").attr("stroke-width", 1.3);
  svg.append("text").attr("x", L).attr("y", top - 10).attr("font-size", 11.2).attr("font-weight", "bold").text(title);
  return {g, y};
}

function axes(top, bottom, y, xLabels) {
  const ax = svg.append("g");
  const styleAxis = s => { s.select(".domain").remove(); s.selectAll("text").attr("font-size", 7.8).attr("fill", "#222").attr("font-family", "DejaVu Sans"); s.selectAll("line").attr("stroke", "#222"); };
  ax.append("g").attr("transform", `translate(${L},0)`)
    .call(d3.axisLeft(y).tickValues(yTicks).tickSize(6).tickPadding(5)).call(styleAxis);
  ax.append("g").attr("transform", `translate(${L},0)`)
    .call(d3.axisLeft(y).tickValues(minorYVals).tickSize(3.5).tickFormat("")).call(styleAxis);
  ax.append("g").attr("transform", `translate(${R},0)`)
    .call(d3.axisRight(y).tickValues(yTicks).tickSize(6).tickPadding(5)).call(styleAxis);
  ax.append("g").attr("transform", `translate(${R},0)`)
    .call(d3.axisRight(y).tickValues(minorYVals).tickSize(3.5).tickFormat("")).call(styleAxis);
  ax.append("g").attr("transform", `translate(0,${bottom})`)
    .call(d3.axisBottom(x).tickValues(xTickMinutes).tickSize(6).tickPadding(6).tickFormat((d, i) => xLabels[i])).call(styleAxis);
  ax.append("g").attr("transform", `translate(0,${bottom})`)
    .call(d3.axisBottom(x).tickValues(minorXVals).tickSize(4).tickFormat("")).call(styleAxis);
  ax.append("rect").attr("x", L).attr("y", top).attr("width", R - L).attr("height", bottom - top)
    .attr("fill", "none").attr("stroke", "#000").attr("stroke-width", 1.2);
  const mid = (top + bottom) / 2;
  ax.append("text").attr("transform", `translate(21,${mid}) rotate(-90)`).attr("text-anchor", "middle").attr("font-size", 11).text("dB SPL");
  ax.append("text").attr("transform", `translate(2388,${mid}) rotate(-90)`).attr("text-anchor", "middle").attr("font-size", 11).text("dB SPL");
  ax.append("text").attr("x", (L + R) / 2).attr("y", bottom + 37).attr("text-anchor", "middle").attr("font-size", 11).text("time");
}

function line(g, y, vals, color, w) {
  g.append("path").datum(vals)
    .attr("d", d3.line().x((d, i) => x(sampleMinutes[i])).y(d => y(d)))
    .attr("fill", "none").attr("stroke", color).attr("stroke-width", w).attr("stroke-linejoin", "round");
}

// ---- top panel ----
const T1 = 84, B1 = 588;
const p1 = panel(T1, B1, "average and peak noise level (1 min sampling)");
svg.append("clipPath").attr("id", "clip1").append("rect").attr("x", L).attr("y", T1).attr("width", R - L).attr("height", B1 - T1);
const gd1 = p1.g.append("g").attr("clip-path", "url(#clip1)");
function scatter(vals, times, color) {
  gd1.append("g").selectAll("path").data(vals).join("path")
    .attr("d", "M-2.2,0H2.2M0,-2.2V2.2")
    .attr("transform", (d, i) => `translate(${x(times[i])},${p1.y(d)})`)
    .attr("stroke", color).attr("stroke-width", 1.1).attr("fill", "none").attr("opacity", 0.85);
}
scatter(peakZ, sampleMinutes, "#1e90ff");
scatter(peakZb, sampleMinutesB, "#1e90ff");
scatter(peakC, sampleMinutes, "#ff00ff");
scatter(peakCb, sampleMinutesB, "#ff00ff");
scatter(peakA, sampleMinutes, "#2e8b57");
scatter(peakAb, sampleMinutesB, "#2e8b57");
line(gd1, p1.y, avgZ, "#4682b4", 1.3);
line(gd1, p1.y, avgC, "#da70d6", 1.3);
line(gd1, p1.y, avgA, "#9acd32", 1.3);
axes(T1, B1, p1.y, xTickLabelsTop);

const lg1 = svg.append("g");
lg1.append("rect").attr("x", 2155).attr("y", 542).attr("width", 183).attr("height", 41).attr("rx", 2.5)
  .attr("fill", BG).attr("fill-opacity", 0.85).attr("stroke", "#dcc9a0").attr("stroke-width", 1);
const leg1 = [["peak dB(Z)", "#1e90ff"], ["peak dB(C)", "#ff00ff"], ["peak dB(A)", "#2e8b57"]];
const leg2 = [["avg dB(Z)", "#4682b4"], ["avg dB(C)", "#da70d6"], ["avg dB(A)", "#9acd32"]];
leg1.forEach((d, i) => {
  const yy = 549.5 + i * 12;
  lg1.append("circle").attr("cx", 2169).attr("cy", yy).attr("r", 2.3).attr("fill", d[1]);
  lg1.append("text").attr("x", 2186).attr("y", yy + 3.4).attr("font-size", 9.6).text(d[0]);
});
leg2.forEach((d, i) => {
  const yy = 549.5 + i * 12;
  lg1.append("line").attr("x1", 2257).attr("x2", 2280).attr("y1", yy).attr("y2", yy).attr("stroke", d[1]).attr("stroke-width", 3);
  lg1.append("text").attr("x", 2287).attr("y", yy + 3.4).attr("font-size", 9.6).text(d[0]);
});

// ---- bottom panel ----
const T2 = 645, B2 = 1149;
const p2 = panel(T2, B2, "average noise level (5 min with 15s min/max dB envelope)");
svg.append("clipPath").attr("id", "clip2").append("rect").attr("x", L).attr("y", T2).attr("width", R - L).attr("height", B2 - T2);
const gd2 = p2.g.append("g").attr("clip-path", "url(#clip2)");
const ENV = "#cd5c5c";
gd2.append("path").datum(sampleMinutes)
  .attr("d", d3.area().x(d => x(d)).y0((d, i) => p2.y(envMin[i])).y1((d, i) => p2.y(envHi[i])))
  .attr("fill", ENV).attr("fill-opacity", 0.2);
gd2.append("g").selectAll("line").data(envMax).join("line")
  .attr("x1", (d, i) => x(sampleMinutes[i])).attr("x2", (d, i) => x(sampleMinutes[i]))
  .attr("y1", (d, i) => p2.y(envMin[i])).attr("y2", d => p2.y(d))
  .attr("stroke", ENV).attr("stroke-opacity", 0.25).attr("stroke-width", 2.4);
line(gd2, p2.y, dbZ, "#dc143c", 1.8);
line(gd2, p2.y, dbC, "#ff8c00", 1.8);
line(gd2, p2.y, dbA, "#ffd700", 1.8);
axes(T2, B2, p2.y, xTickLabelsBottom);

const lg2 = svg.append("g");
lg2.append("rect").attr("x", 2277).attr("y", 1103).attr("width", 61).attr("height", 41).attr("rx", 2.5)
  .attr("fill", BG).attr("fill-opacity", 0.85).attr("stroke", "#dcc9a0").attr("stroke-width", 1);
[["dB(Z)", "#dc143c"], ["dB(C)", "#ff8c00"], ["dB(A)", "#ffd700"]].forEach((d, i) => {
  const yy = 1111.5 + i * 12;
  lg2.append("line").attr("x1", 2279).attr("x2", 2301).attr("y1", yy).attr("y2", yy).attr("stroke", d[1]).attr("stroke-width", 3);
  lg2.append("text").attr("x", 2308).attr("y", yy + 3.4).attr("font-size", 9.6).text(d[0]);
});
</script>
</body></html>
